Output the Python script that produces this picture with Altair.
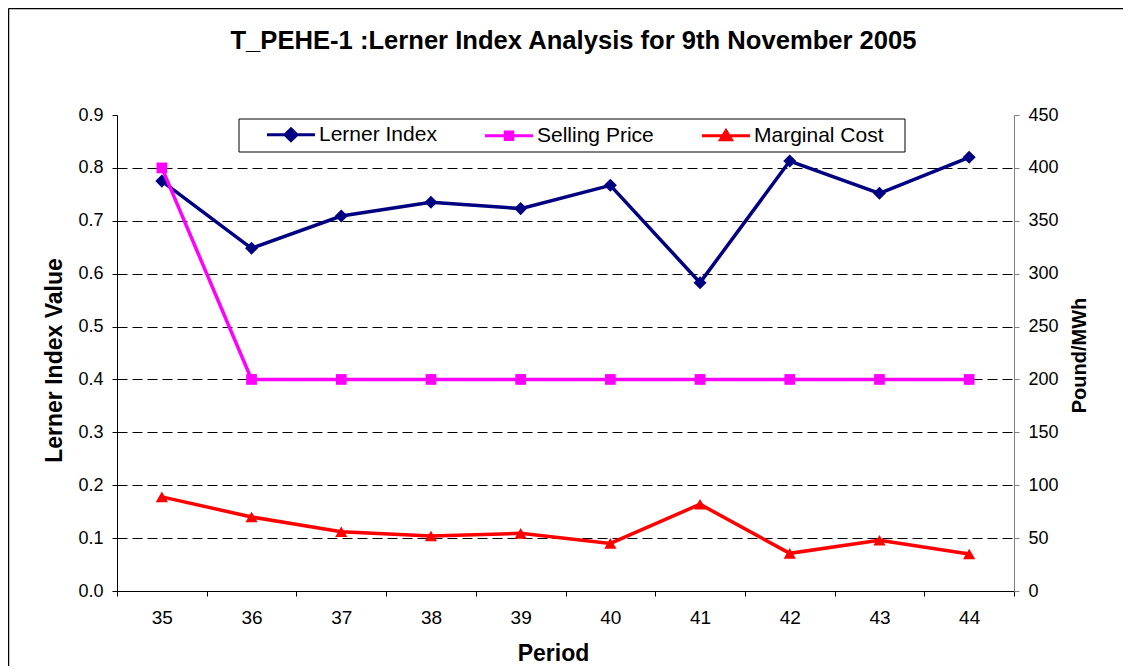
import altair as alt
import pandas as pd

# ---------------- data ----------------
periods = [35, 36, 37, 38, 39, 40, 41, 42, 43, 44]
lerner_index = [0.775, 0.648, 0.709, 0.735, 0.723, 0.767, 0.583, 0.813, 0.752, 0.820]
selling_price = [400, 200, 200, 200, 200, 200, 200, 200, 200, 200]
marginal_cost = [89, 70, 56, 52, 54.5, 45, 82, 35.6, 48, 35]

left_ticks = [0.0, 0.1, 0.2, 0.3, 0.4, 0.5, 0.6, 0.7, 0.8, 0.9]
right_ticks = [0, 50, 100, 150, 200, 250, 300, 350, 400, 450]

series_names = ["Lerner Index", "Selling Price", "Marginal Cost"]
series_colors = ["#000080", "#FF00FF", "#FF0000"]
# legend symbols: a short line with the series marker on it
legend_symbols = [
    "M-1.15,0H3.65M1.25,-0.6L1.85,0L1.25,0.6L0.65,0Z",
    "M-1.15,0H3.65M0.88,-0.37H1.62V0.37H0.88Z",
    "M-1.15,0H3.65M1.25,-0.5L1.8,0.42H0.7Z",
]

FONT = "Liberation Sans"
W, H = 897, 476

df = pd.DataFrame({
    "Period": periods,
    "Lerner": lerner_index,
    "Selling": selling_price,
    "Marginal": marginal_cost,
})
dummy = pd.DataFrame({"d": [0]})
legend_df = pd.DataFrame({"Series": series_names})


def x_enc():
    return alt.X(
        "Period:O",
        bandPosition=0.5,
        scale=alt.Scale(type="band", paddingInner=0, paddingOuter=0),
        axis=alt.Axis(
            title="Period", labelAngle=0, tickBand="extent", grid=False,
            domainColor="black", domainWidth=1, tickColor="black", tickSize=5,
            labelPadding=12, labelFont=FONT, labelFontSize=19, labelColor="black",
            titleFont=FONT, titleFontSize=23, titleFontWeight="bold", titleColor="black",
            titleX=436, titleY=69, titleBaseline="alphabetic",
        ),
    )


left_axis = alt.Axis(
    title="Lerner Index Value", orient="left", values=left_ticks, format=".1f",
    grid=True, gridColor="black", gridDash=[10, 5], gridWidth=1,
    gridOpacity={"condition": {"test": "datum.value > 0.85 || datum.value < 0.05", "value": 0}, "value": 1},
    domainColor="black", tickColor="black", tickSize=5, labelPadding=9,
    labelFont=FONT, labelFontSize=18, labelColor="black",
    titleFont=FONT, titleFontSize=23, titleFontWeight="bold", titleColor="black",
    titleAngle=270, titleX=-63, titleY=245, titleBaseline="middle", titleAlign="center",
)

right_axis = alt.Axis(
    title="Pound/MWh", orient="right", values=right_ticks, format="d", grid=False,
    domainColor="#808080", tickColor="#808080", tickSize=5, labelPadding=9,
    labelFont=FONT, labelFontSize=18, labelColor="black",
    titleFont=FONT, titleFontSize=20, titleFontWeight="bold", titleColor="black",
    titleAngle=270, titleX=65, titleY=240, titleBaseline="middle", titleAlign="center",
)


def y_left(field):
    return alt.Y(f"{field}:Q", scale=alt.Scale(domain=[0, 0.9], nice=False, zero=True), axis=left_axis)


def y_right(field):
    return alt.Y(f"{field}:Q", scale=alt.Scale(domain=[0, 450], nice=False, zero=True), axis=right_axis)


base = alt.Chart(df)

# decoration: outer chart frame (top and left edges visible)
border_top = alt.Chart(dummy).mark_rule(color="black", strokeWidth=1.5).encode(
    x=alt.value(-108.5), x2=alt.value(1006), y=alt.value(-106.5))
border_left = alt.Chart(dummy).mark_rule(color="black", strokeWidth=1.5).encode(
    x=alt.value(-108.5), y=alt.value(-106.5), y2=alt.value(560))

legend_box = alt.Chart(dummy).mark_rect(fill="white", stroke="black", strokeWidth=1).encode(
    x=alt.value(122), x2=alt.value(788), y=alt.value(4), y2=alt.value(37))

legend_def = alt.Legend(
    title=None, orient="none", legendX=150, legendY=8, direction="horizontal",
    symbolSize=400, symbolStrokeWidth=3, symbolOpacity=1,
    labelFont=FONT, labelFontSize=21, labelColor="black", labelOffset=29,
    columnPadding=42, padding=0,
)

legend_layer = alt.Chart(legend_df).transform_filter("false").mark_point(opacity=1, strokeWidth=3).encode(
    fill=alt.Fill("Series:N", scale=alt.Scale(domain=series_names, range=series_colors), legend=legend_def),
    stroke=alt.Stroke("Series:N", scale=alt.Scale(domain=series_names, range=series_colors), legend=legend_def),
    shape=alt.Shape("Series:N", scale=alt.Scale(domain=series_names, range=legend_symbols), legend=legend_def),
)

LW = 3.5
lerner_line = base.mark_line(color=series_colors[0], strokeWidth=LW).encode(x=x_enc(), y=y_left("Lerner"))
lerner_pts = base.mark_point(shape="diamond", filled=True, color=series_colors[0], size=170, opacity=1).encode(
    x=x_enc(), y=y_left("Lerner"))

sp_line = base.mark_line(color=series_colors[1], strokeWidth=LW).encode(x=x_enc(), y=y_right("Selling"))
sp_pts = base.mark_point(shape="square", filled=True, color=series_colors[1], size=115, opacity=1).encode(
    x=x_enc(), y=y_right("Selling"))
mc_line = base.mark_line(color=series_colors[2], strokeWidth=LW).encode(x=x_enc(), y=y_right("Marginal"))
mc_pts = base.mark_point(shape="triangle-up", filled=True, color=series_colors[2], size=150, opacity=1).encode(
    x=x_enc(), y=y_right("Marginal"))

left = alt.layer(border_top, border_left, lerner_line, lerner_pts, legend_box, legend_layer)
right = alt.layer(sp_line, sp_pts, mc_line, mc_pts)

chart = alt.layer(left, right).resolve_scale(y="independent").properties(
    width=W, height=H,
    title=alt.TitleParams(
        text="T_PEHE-1 :Lerner Index Analysis for 9th November 2005",
        font=FONT, fontSize=25.6, fontWeight="bold", color="black",
        anchor="middle", frame="group", baseline="alphabetic", offset=0, dx=8, dy=67,
    ),
    padding={"left": 109, "top": 107, "right": 109, "bottom": 75},
    autosize=alt.AutoSizeParams(type="none"),
).configure(background="white").configure_view(fill="#FFFFCC", stroke="transparent")

chart.save("out.html", embed_options={"renderer": "svg", "actions": False})
